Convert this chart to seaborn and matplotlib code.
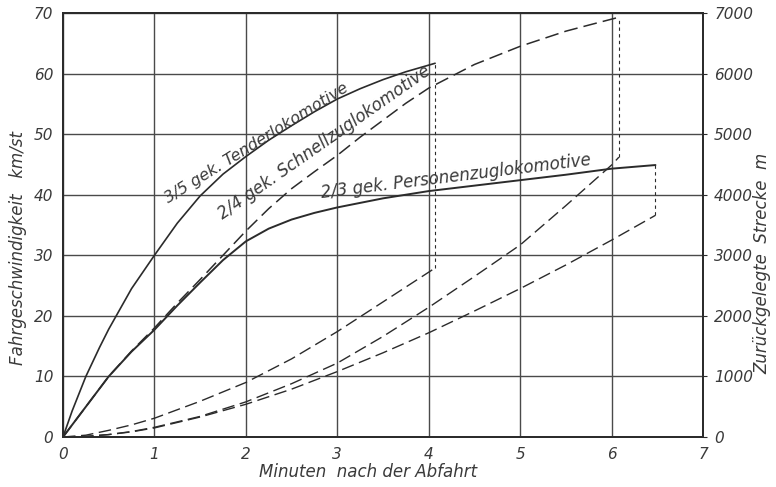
import seaborn as sns
import matplotlib.pyplot as plt

# -----------------------
# Data
# -----------------------
# speed curves (left axis, km/st) against minutes after departure
t_tender = [0, 0.1, 0.25, 0.4, 0.5, 0.75, 1.0, 1.25, 1.5, 1.75, 2.0, 2.25, 2.5,
            2.75, 3.0, 3.25, 3.5, 3.75, 4.07]
v_tender = [0, 4.3, 10, 14.8, 17.8, 24.5, 30, 35.3, 39.8, 43.4, 46.3, 49.0, 51.4,
            53.7, 55.8, 57.5, 59.0, 60.3, 61.7]

t_schnell = [0, 0.25, 0.5, 0.75, 1.0, 1.25, 1.5, 1.75, 2.0, 2.25, 2.5, 2.75, 3.0,
             3.25, 3.5, 3.75, 4.0, 4.5, 5.0, 5.5, 5.75, 6.08]
v_schnell = [0, 5, 10, 14.2, 18, 22.1, 26, 30, 34, 37.7, 41, 43.8, 46.5,
             49.5, 52.3, 55.1, 57.6, 61.5, 64.5, 67, 68, 69.3]

t_pers = [0, 0.25, 0.5, 0.75, 1.0, 1.25, 1.5, 1.75, 2.0, 2.25, 2.5, 2.75, 3.0,
          3.5, 4.0, 4.5, 5.0, 5.5, 6.0, 6.48]
v_pers = [0, 5, 10, 14.1, 17.7, 21.7, 25.5, 29.2, 32.3, 34.4, 35.9, 37.0, 37.9,
          39.4, 40.6, 41.5, 42.4, 43.3, 44.3, 44.9]

# travelled distance (right axis, m)
td_tender = [0, 0.25, 0.5, 0.75, 1.0, 1.5, 2.0, 2.5, 3.0, 3.5, 4.07]
d_tender = [0, 30, 110, 200, 310, 590, 900, 1290, 1740, 2230, 2790]

td_schnell = [0, 0.25, 0.5, 0.75, 1.0, 1.5, 2.0, 2.5, 3.0, 3.5, 4.0, 4.5, 5.0,
              5.5, 6.0, 6.08]
d_schnell = [0, 10, 40, 90, 160, 340, 580, 880, 1220, 1660, 2140, 2650, 3170,
             3820, 4490, 4620]

td_pers = [0, 0.25, 0.5, 0.75, 1.0, 1.5, 2.0, 2.5, 3.0, 3.5, 4.0, 4.5, 5.0,
           5.5, 6.0, 6.48]
d_pers = [0, 10, 40, 85, 150, 330, 540, 790, 1080, 1390, 1720, 2080, 2450,
          2840, 3250, 3660]

x_ticks = [0, 1, 2, 3, 4, 5, 6, 7]
v_ticks = [0, 10, 20, 30, 40, 50, 60, 70]
d_ticks = [0, 1000, 2000, 3000, 4000, 5000, 6000, 7000]

# -----------------------
# Style
# -----------------------
sns.set_style("white")
plt.rcParams["font.family"] = ["DejaVu Sans"]
plt.rcParams["font.style"] = "italic"

ink = "#2b2b2b"
grid = "#4a4a4a"
txt = "#3a3a3a"

fig = plt.figure(figsize=(7.76, 4.87), dpi=100)
ax = fig.add_axes([63 / 776, 50 / 487, 640 / 776, 424 / 487])
ax2 = ax.twinx()

scale = d_ticks[-1] / v_ticks[-1]   # km/st -> m on the right axis

# speed curves
sns.lineplot(x=t_tender, y=v_tender, ax=ax, color=ink, lw=1.2, estimator=None, sort=False)
sns.lineplot(x=t_pers, y=v_pers, ax=ax, color=ink, lw=1.4, estimator=None, sort=False)
sns.lineplot(x=t_schnell, y=v_schnell, ax=ax, color=ink, lw=1.1,
             linestyle=(0, (9, 4)), estimator=None, sort=False)

# distance curves
for tt, dd in [(td_tender, d_tender), (td_schnell, d_schnell), (td_pers, d_pers)]:
    sns.lineplot(x=tt, y=dd, ax=ax2, color=ink, lw=1.0,
                 linestyle=(0, (9, 4)), estimator=None, sort=False)

# thin dotted connectors from end of distance to end of speed
for tt, dd, vv in [(td_tender, d_tender, v_tender),
                   (td_schnell, d_schnell, v_schnell),
                   (td_pers, d_pers, v_pers)]:
    ax2.plot([tt[-1], tt[-1]], [dd[-1], vv[-1] * scale], color=ink, lw=0.8,
             linestyle=(0, (3, 3)))

# axes
ax.set_xlim(0, 7)
ax.set_ylim(0, 70)
ax2.set_ylim(0, 7000)
ax.set_xticks(x_ticks)
ax.set_yticks(v_ticks)
ax2.set_yticks(d_ticks)
ax.grid(True, color=grid, lw=1.0)
ax.set_axisbelow(True)
for a in (ax, ax2):
    for s in a.spines.values():
        s.set_color(ink)
        s.set_linewidth(1.3)
ax.tick_params(axis="both", length=0, labelsize=11, labelcolor=txt)
ax.tick_params(axis="x", pad=7)
ax.tick_params(axis="y", pad=7)
ax2.tick_params(axis="y", length=3, width=0.8, color=ink, labelsize=11,
                labelcolor=txt, pad=5)

ax.set_xlabel("Minuten  nach der Abfahrt", fontsize=12, color=txt)
ax.xaxis.set_label_coords(0.477, -0.062)
ax.set_ylabel("Fahrgeschwindigkeit   km/st", fontsize=12, color=txt)
ax.yaxis.set_label_coords(-0.056, 0.446)
ax2.set_ylabel("Zurückgelegte  Strecke  m", fontsize=12, color=txt)
ax2.yaxis.set_label_coords(1.079, 0.41)

# curve labels
ax.text(2.12, 48.6, "3/5 gek. Tenderlokomotive", rotation=32, fontsize=11.5,
        color=txt, ha="center", va="center", rotation_mode="anchor")
ax.text(2.86, 48.6, "2/4 gek. Schnellzuglokomotive", rotation=35, fontsize=12,
        color=txt, ha="center", va="center", rotation_mode="anchor")
ax.text(4.3, 43.0, "2/3 gek. Personenzuglokomotive", rotation=7, fontsize=12,
        color=txt, ha="center", va="center", rotation_mode="anchor")

plt.savefig("out.png", dpi=100)
